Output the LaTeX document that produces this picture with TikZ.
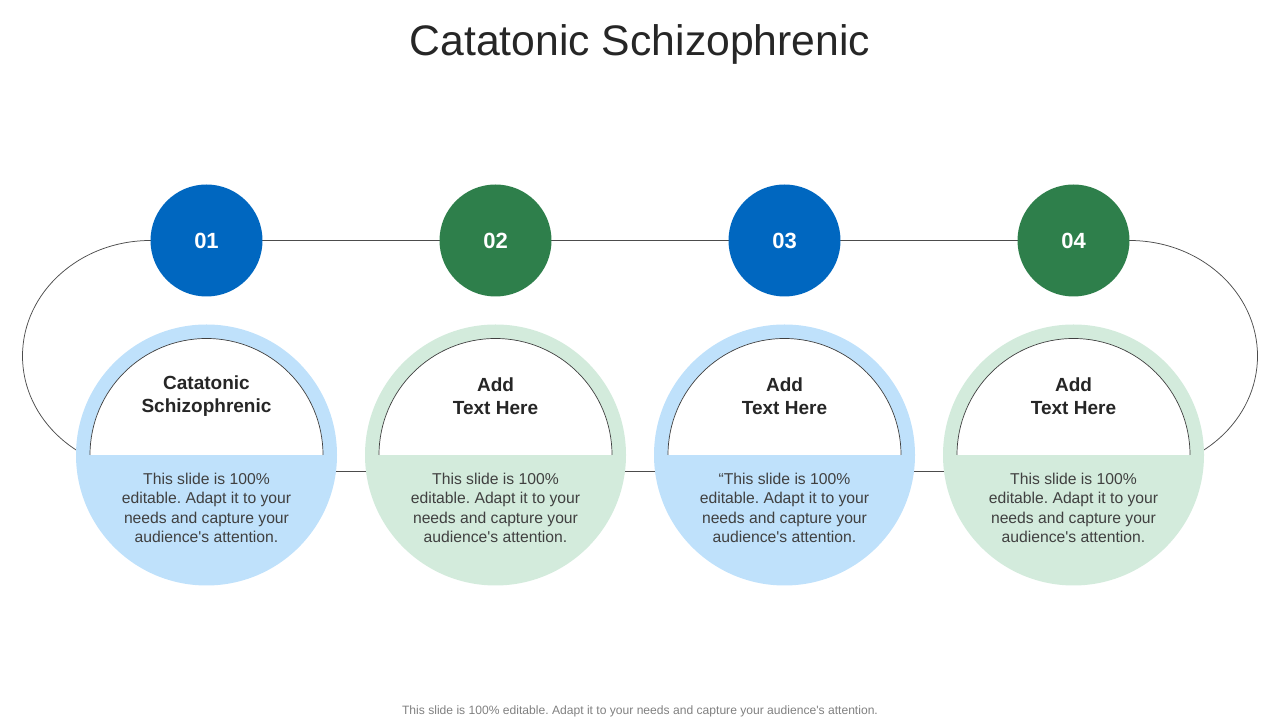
\documentclass[tikz,border=0pt]{standalone}
\usepackage{fontspec}
\setmainfont{Liberation Sans}
\usepackage{xcolor}
\usepackage{tikz}
\usetikzlibrary{positioning,backgrounds}
\frenchspacing

\definecolor{stepblue}{HTML}{0067C0}
\definecolor{stepgreen}{HTML}{2E7F4B}
\definecolor{paleblue}{HTML}{BFE1FB}
\definecolor{palegreen}{HTML}{D3EBDC}
\definecolor{inkgray}{HTML}{404040}

\begin{document}
\begin{tikzpicture}[x=1pt, y=1pt, node distance=177pt,
    num/.style={circle, minimum size=112pt, inner sep=0pt, outer sep=0pt, text=white, font=\bfseries\fontsize{22}{26}\selectfont},
    disc/.style={circle, minimum size=261pt, inner sep=0pt, outer sep=0pt},
    head/.style={align=center, text=black!85, font=\bfseries\fontsize{19}{23}\selectfont},
    body/.style={align=center, text=inkgray, font=\fontsize{15.7}{19.3}\selectfont}]
    \useasboundingbox (0,0) rectangle (1280,720);

    \node[font=\fontsize{42.7}{50}\selectfont, text=black!85] (title) at (640,676) {Catatonic Schizophrenic};

    \node[num, fill=stepblue] (num1) at (206.5,479.5) {01};
    \node[num, fill=stepgreen, right=of num1] (num2) {02};
    \node[num, fill=stepblue, right=of num2] (num3) {03};
    \node[num, fill=stepgreen, right=of num3] (num4) {04};

    \node[disc, fill=paleblue, below=28pt of num1] (disc1) {};
    \node[disc, fill=palegreen, below=28pt of num2] (disc2) {};
    \node[disc, fill=paleblue, below=28pt of num3] (disc3) {};
    \node[disc, fill=palegreen, below=28pt of num4] (disc4) {};

    % white tops of the discs
    \foreach \i in {1,...,4} {
        \fill[white] ([xshift=-116.5pt]disc\i.center) arc[start angle=180, end angle=0, radius=116.5pt] -- cycle;
        \draw[inkgray, line width=0.7pt] ([xshift=-116.5pt]disc\i.center) arc[start angle=180, end angle=0, radius=116.5pt];
    }

    \node[head] (head1) at ([yshift=59pt]disc1.center) {Catatonic\\Schizophrenic};
    \node[head] (head2) at ([yshift=59pt]disc2.center) {Add\\Text Here};
    \node[head] (head3) at ([yshift=59pt]disc3.center) {Add\\Text Here};
    \node[head] (head4) at ([yshift=59pt]disc4.center) {Add\\Text Here};

    \node[body] (body1) at ([yshift=-53pt]disc1.center) {This slide is 100\%\\editable. Adapt it to your\\needs and capture your\\audience\textquotesingle s attention.};
    \node[body] (body2) at ([yshift=-53pt]disc2.center) {This slide is 100\%\\editable. Adapt it to your\\needs and capture your\\audience\textquotesingle s attention.};
    \node[body] (body3) at ([yshift=-53pt]disc3.center) {“This slide is 100\%\\editable. Adapt it to your\\needs and capture your\\audience\textquotesingle s attention.};
    \node[body] (body4) at ([yshift=-53pt]disc4.center) {This slide is 100\%\\editable. Adapt it to your\\needs and capture your\\audience\textquotesingle s attention.};

    % track behind the circles
    \begin{pgfonlayer}{background}
        \draw[black!70, line width=0.75pt] (num1.west) -- (num4.east)
            arc[start angle=90, end angle=-90, x radius=128, y radius=115.5]
            -- ([yshift=-231pt]num1.west)
            arc[start angle=270, end angle=90, x radius=128, y radius=115.5] -- cycle;
    \end{pgfonlayer}

    \node[font=\fontsize{12.1}{14}\selectfont, text=black!50] (note) at (640,9) {This slide is 100\% editable. Adapt it to your needs and capture your audience\textquotesingle s attention.};
\end{tikzpicture}
\end{document}
